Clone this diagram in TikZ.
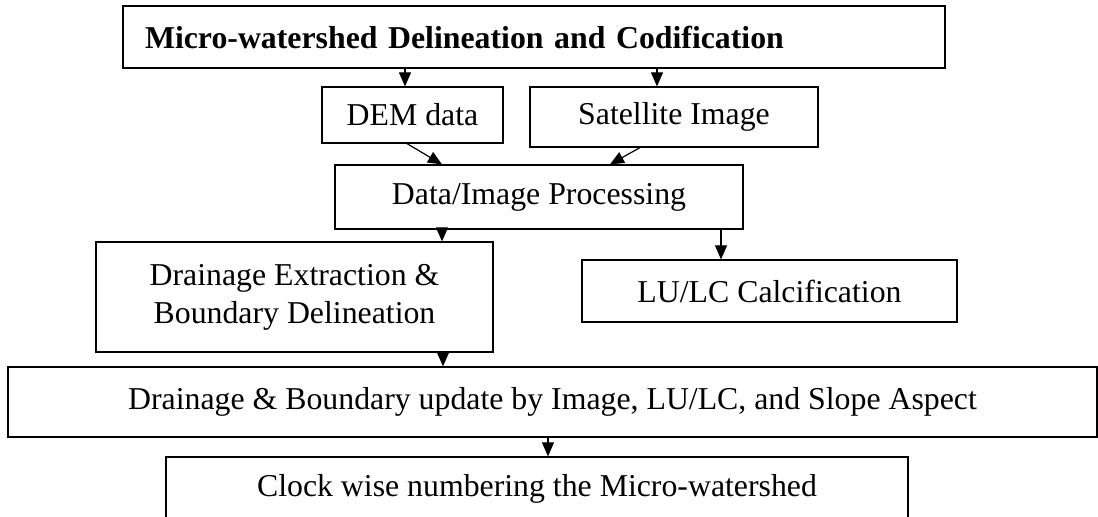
\documentclass[tikz,border=0pt]{standalone}
\usepackage{fontspec}
\setmainfont{Liberation Serif}
\usetikzlibrary{calc}
\usetikzlibrary{arrows.meta}
\tikzstyle{stepnode} = [draw, rectangle, line width=0.6pt, inner sep=0pt, align=center, font=\fontsize{15.9}{19}\selectfont]
\tikzstyle{arr} = [-{Triangle[length=7pt,width=6pt]}, line width=0.6pt]

\begin{document}
\begin{tikzpicture}[x=0.5pt, y=-0.5pt]
\useasboundingbox (0,0) rectangle (1098,517);
\node[stepnode, text width=389pt, inner xsep=11pt, minimum height=31pt, align=left, font=\fontsize{15.9}{19}\selectfont\bfseries] (wshed_title) at (534,37) {Micro-watershed Delineation and Codification};
\node[stepnode, minimum width=90.5pt, minimum height=28pt] (src_dem) at ($(wshed_title)+(-121.5,78)$) {DEM data};
\node[stepnode, minimum width=144pt, minimum height=30pt] (src_sat) at ($(wshed_title)+(140,80)$) {Satellite Image};
\node[stepnode, minimum width=204pt, minimum height=32pt] (proc_img) at ($(wshed_title)+(5,160)$) {Data/Image Processing};
\node[stepnode, minimum width=198.5pt, minimum height=55pt] (ext_drain) at ($(wshed_title)+(-239.5,260)$) {Drainage Extraction \&\\Boundary Delineation};
\node[stepnode, minimum width=187.5pt, minimum height=31pt] (cls_lulc) at ($(wshed_title)+(235.5,254)$) {LU/LC Calcification};
\node[stepnode, minimum width=544.5pt, minimum height=35pt] (upd_drain) at ($(wshed_title)+(18.5,365)$) {Drainage \& Boundary update by Image, LU/LC, and Slope Aspect};
\node[stepnode, minimum width=371pt, minimum height=31.5pt] (num_clock) at ($(wshed_title)+(3,451.5)$) {Clock wise numbering the Micro-watershed};

% arrow end points
\coordinate (dem_in) at ($(src_dem.north)+(-7.5,0)$);
\coordinate (sat_in) at ($(src_sat.north)+(-17,0)$);
\coordinate (dem_out) at ($(src_dem.south)+(-5.5,0)$);
\coordinate (sat_out) at ($(src_sat.south)+(-34,0)$);
\coordinate (proc_in_l) at ($(proc_img.north)+(-97,0)$);
\coordinate (proc_in_r) at ($(proc_img.north)+(71,0)$);
\coordinate (proc_out_l) at ($(proc_img.south)+(-97,0)$);
\coordinate (proc_out_r) at ($(proc_img.south)+(182,0)$);
\coordinate (drain_out) at ($(ext_drain.south)+(148.5,0)$);
\coordinate (clock_in) at ($(num_clock.north)+(11,0)$);

\draw[arr] (dem_in |- wshed_title.south) -- (dem_in);
\draw[arr] (sat_in |- wshed_title.south) -- (sat_in);
\draw[arr] (dem_out) -- (proc_in_l);
\draw[arr] (sat_out) -- (proc_in_r);
\draw[arr] (proc_out_l) -- (proc_out_l |- ext_drain.north);
\draw[arr] (proc_out_r) -- (proc_out_r |- cls_lulc.north);
\draw[arr] (drain_out) -- (drain_out |- upd_drain.north);
\draw[arr] (clock_in |- upd_drain.south) -- (clock_in);
\end{tikzpicture}
\end{document}
